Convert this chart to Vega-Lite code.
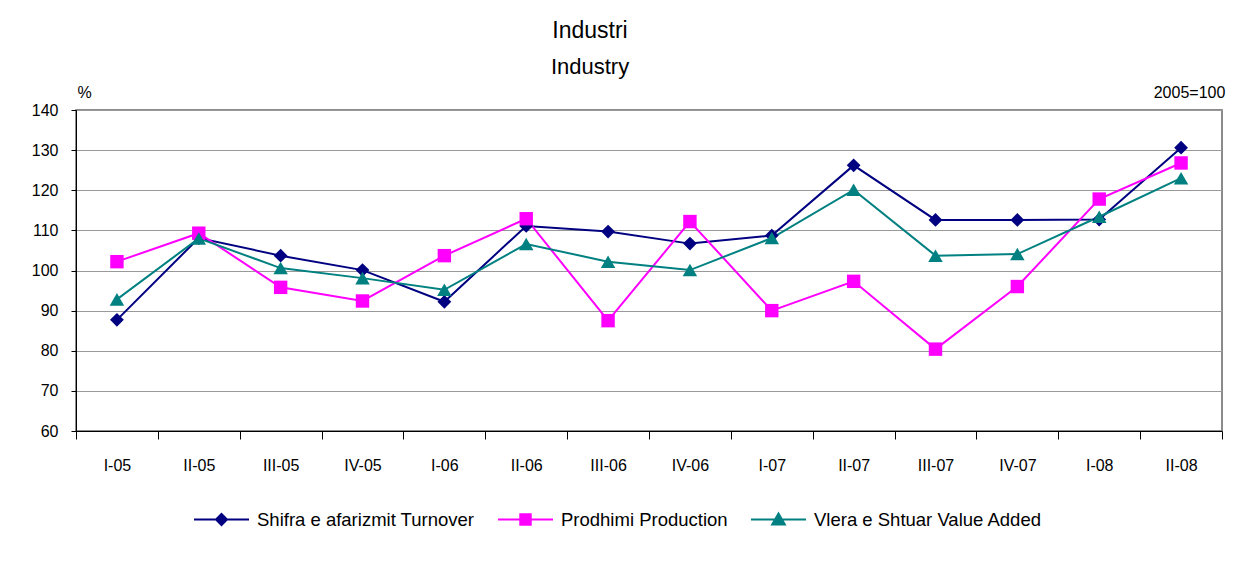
{
  "$schema": "https://vega.github.io/schema/vega-lite/v6.json",
  "width": 1146,
  "height": 321,
  "autosize": {"type": "none"},
  "padding": {"left": 76, "top": 110, "right": 23, "bottom": 134},
  "background": "white",
  "title": {
    "text": "Industri",
    "subtitle": "Industry",
    "fontSize": 23,
    "subtitleFontSize": 22,
    "fontWeight": "normal",
    "subtitleColor": "black",
    "color": "black",
    "anchor": "middle",
    "frame": "group",
    "dx": -59,
    "subtitlePadding": 14,
    "offset": 6
  },
  "config": {
    "font": "Liberation Sans",
    "view": {"stroke": "#666", "strokeWidth": 1.5},
    "axis": {"labelColor": "black", "labelFontSize": 16, "titleFontWeight": "normal", "titleFontSize": 16, "titleColor": "black"}
  },
  "data": {
    "values": [
      {"q": "I-05", "s": "Shifra e afarizmit Turnover", "v": 87.7},
      {"q": "II-05", "s": "Shifra e afarizmit Turnover", "v": 108.1},
      {"q": "III-05", "s": "Shifra e afarizmit Turnover", "v": 103.7},
      {"q": "IV-05", "s": "Shifra e afarizmit Turnover", "v": 100.1},
      {"q": "I-06", "s": "Shifra e afarizmit Turnover", "v": 92.2},
      {"q": "II-06", "s": "Shifra e afarizmit Turnover", "v": 111.1},
      {"q": "III-06", "s": "Shifra e afarizmit Turnover", "v": 109.7},
      {"q": "IV-06", "s": "Shifra e afarizmit Turnover", "v": 106.7},
      {"q": "I-07", "s": "Shifra e afarizmit Turnover", "v": 108.7},
      {"q": "II-07", "s": "Shifra e afarizmit Turnover", "v": 126.2},
      {"q": "III-07", "s": "Shifra e afarizmit Turnover", "v": 112.6},
      {"q": "IV-07", "s": "Shifra e afarizmit Turnover", "v": 112.6},
      {"q": "I-08", "s": "Shifra e afarizmit Turnover", "v": 112.7},
      {"q": "II-08", "s": "Shifra e afarizmit Turnover", "v": 130.6},
      {"q": "I-05", "s": "Prodhimi Production", "v": 102.2},
      {"q": "II-05", "s": "Prodhimi Production", "v": 109.3},
      {"q": "III-05", "s": "Prodhimi Production", "v": 95.8},
      {"q": "IV-05", "s": "Prodhimi Production", "v": 92.4},
      {"q": "I-06", "s": "Prodhimi Production", "v": 103.7},
      {"q": "II-06", "s": "Prodhimi Production", "v": 112.9},
      {"q": "III-06", "s": "Prodhimi Production", "v": 87.5},
      {"q": "IV-06", "s": "Prodhimi Production", "v": 112.2},
      {"q": "I-07", "s": "Prodhimi Production", "v": 90.0},
      {"q": "II-07", "s": "Prodhimi Production", "v": 97.3},
      {"q": "III-07", "s": "Prodhimi Production", "v": 80.4},
      {"q": "IV-07", "s": "Prodhimi Production", "v": 96.0},
      {"q": "I-08", "s": "Prodhimi Production", "v": 117.8},
      {"q": "II-08", "s": "Prodhimi Production", "v": 126.8},
      {"q": "I-05", "s": "Vlera e Shtuar Value Added", "v": 92.8},
      {"q": "II-05", "s": "Vlera e Shtuar Value Added", "v": 108.0},
      {"q": "III-05", "s": "Vlera e Shtuar Value Added", "v": 100.6},
      {"q": "IV-05", "s": "Vlera e Shtuar Value Added", "v": 98.1},
      {"q": "I-06", "s": "Vlera e Shtuar Value Added", "v": 95.2},
      {"q": "II-06", "s": "Vlera e Shtuar Value Added", "v": 106.6},
      {"q": "III-06", "s": "Vlera e Shtuar Value Added", "v": 102.2},
      {"q": "IV-06", "s": "Vlera e Shtuar Value Added", "v": 100.1},
      {"q": "I-07", "s": "Vlera e Shtuar Value Added", "v": 108.1},
      {"q": "II-07", "s": "Vlera e Shtuar Value Added", "v": 120.1},
      {"q": "III-07", "s": "Vlera e Shtuar Value Added", "v": 103.7},
      {"q": "IV-07", "s": "Vlera e Shtuar Value Added", "v": 104.1},
      {"q": "I-08", "s": "Vlera e Shtuar Value Added", "v": 113.4},
      {"q": "II-08", "s": "Vlera e Shtuar Value Added", "v": 123.0}
    ]
  },
  "encoding": {
    "x": {
      "field": "q",
      "type": "ordinal",
      "sort": null,
      "scale": {"type": "band", "paddingInner": 0, "paddingOuter": 0},
      "axis": {
        "title": null,
        "labelAngle": 0,
        "tickBand": "extent",
        "tickSize": 8,
        "tickColor": "black",
        "domainColor": "black",
        "labelPadding": 18
      }
    },
    "y": {
      "field": "v",
      "type": "quantitative",
      "scale": {"domain": [60, 140], "nice": false, "zero": false}
    },
    "color": {
      "field": "s",
      "type": "nominal",
      "scale": {
        "domain": ["Shifra e afarizmit Turnover", "Prodhimi Production", "Vlera e Shtuar Value Added"],
        "range": ["#000080", "#FF00FF", "#008080"]
      }
    }
  },
  "layer": [
    {
      "mark": {"type": "line", "strokeWidth": 2},
      "encoding": {
        "y": {
          "field": "v",
          "type": "quantitative",
          "scale": {"domain": [60, 140], "nice": false, "zero": false},
          "axis": {
            "values": [60, 70, 80, 90, 100, 110, 120, 130, 140],
            "gridColor": "#999",
            "gridWidth": 1.2,
            "tickSize": 5,
            "tickColor": "black",
            "domainColor": "black",
            "labelPadding": 13,
            "title": "%",
            "titleAngle": 0,
            "titleX": 8,
            "titleY": -18,
            "titleAlign": "center",
            "titleBaseline": "middle"
          }
        },
        "color": {
          "field": "s",
          "type": "nominal",
          "legend": {
            "orient": "none",
            "legendX": 117,
            "legendY": 381,
            "direction": "horizontal",
            "title": null,
            "padding": 0,
            "labelFontSize": 18.5,
            "labelLimit": 0,
            "labelColor": "black",
            "labelOffset": 7,
            "columnPadding": 19,
            "gridAlign": "none",
            "symbolSize": 3025,
            "symbolStrokeWidth": 2,
            "encode": {
              "symbols": {
                "update": {
                  "shape": {"signal": "datum.value === 'Shifra e afarizmit Turnover' ? 'M-1,0H1M0,-0.2L0.2,0L0,0.2L-0.2,0Z' : datum.value === 'Prodhimi Production' ? 'M-1,0H1M-0.19,-0.19H0.19V0.19H-0.19Z' : 'M-1,0H1M0,-0.22L0.23,0.18H-0.23Z'"},
                  "fill": {"scale": "color", "field": "value"},
                  "stroke": {"scale": "color", "field": "value"},
                  "strokeWidth": {"value": 2}
                }
              }
            }
          }
        }
      }
    },
    {
      "transform": [{"filter": "datum.s === 'Shifra e afarizmit Turnover'"}],
      "mark": {"type": "point", "filled": true, "opacity": 1, "shape": "diamond", "size": 190},
      "encoding": {
        "y": {
          "field": "v",
          "type": "quantitative",
          "scale": {"domain": [60, 140], "nice": false, "zero": false},
          "axis": {
            "orient": "right",
            "labels": false,
            "ticks": false,
            "domain": false,
            "grid": false,
            "title": "2005=100",
            "titleAngle": 0,
            "titleX": -33,
            "titleY": -18,
            "titleAlign": "center",
            "titleBaseline": "middle"
          }
        }
      }
    },
    {
      "transform": [{"filter": "datum.s === 'Prodhimi Production'"}],
      "mark": {"type": "point", "filled": true, "opacity": 1, "shape": "square", "size": 180},
      "encoding": {
        "y": {
          "field": "v",
          "type": "quantitative",
          "scale": {"domain": [60, 140], "nice": false, "zero": false},
          "axis": null
        }
      }
    },
    {
      "transform": [{"filter": "datum.s === 'Vlera e Shtuar Value Added'"}],
      "mark": {"type": "point", "filled": true, "opacity": 1, "shape": "triangle-up", "size": 210},
      "encoding": {
        "y": {
          "field": "v",
          "type": "quantitative",
          "scale": {"domain": [60, 140], "nice": false, "zero": false},
          "axis": null
        }
      }
    }
  ],
  "resolve": {"axis": {"y": "independent"}}
}
